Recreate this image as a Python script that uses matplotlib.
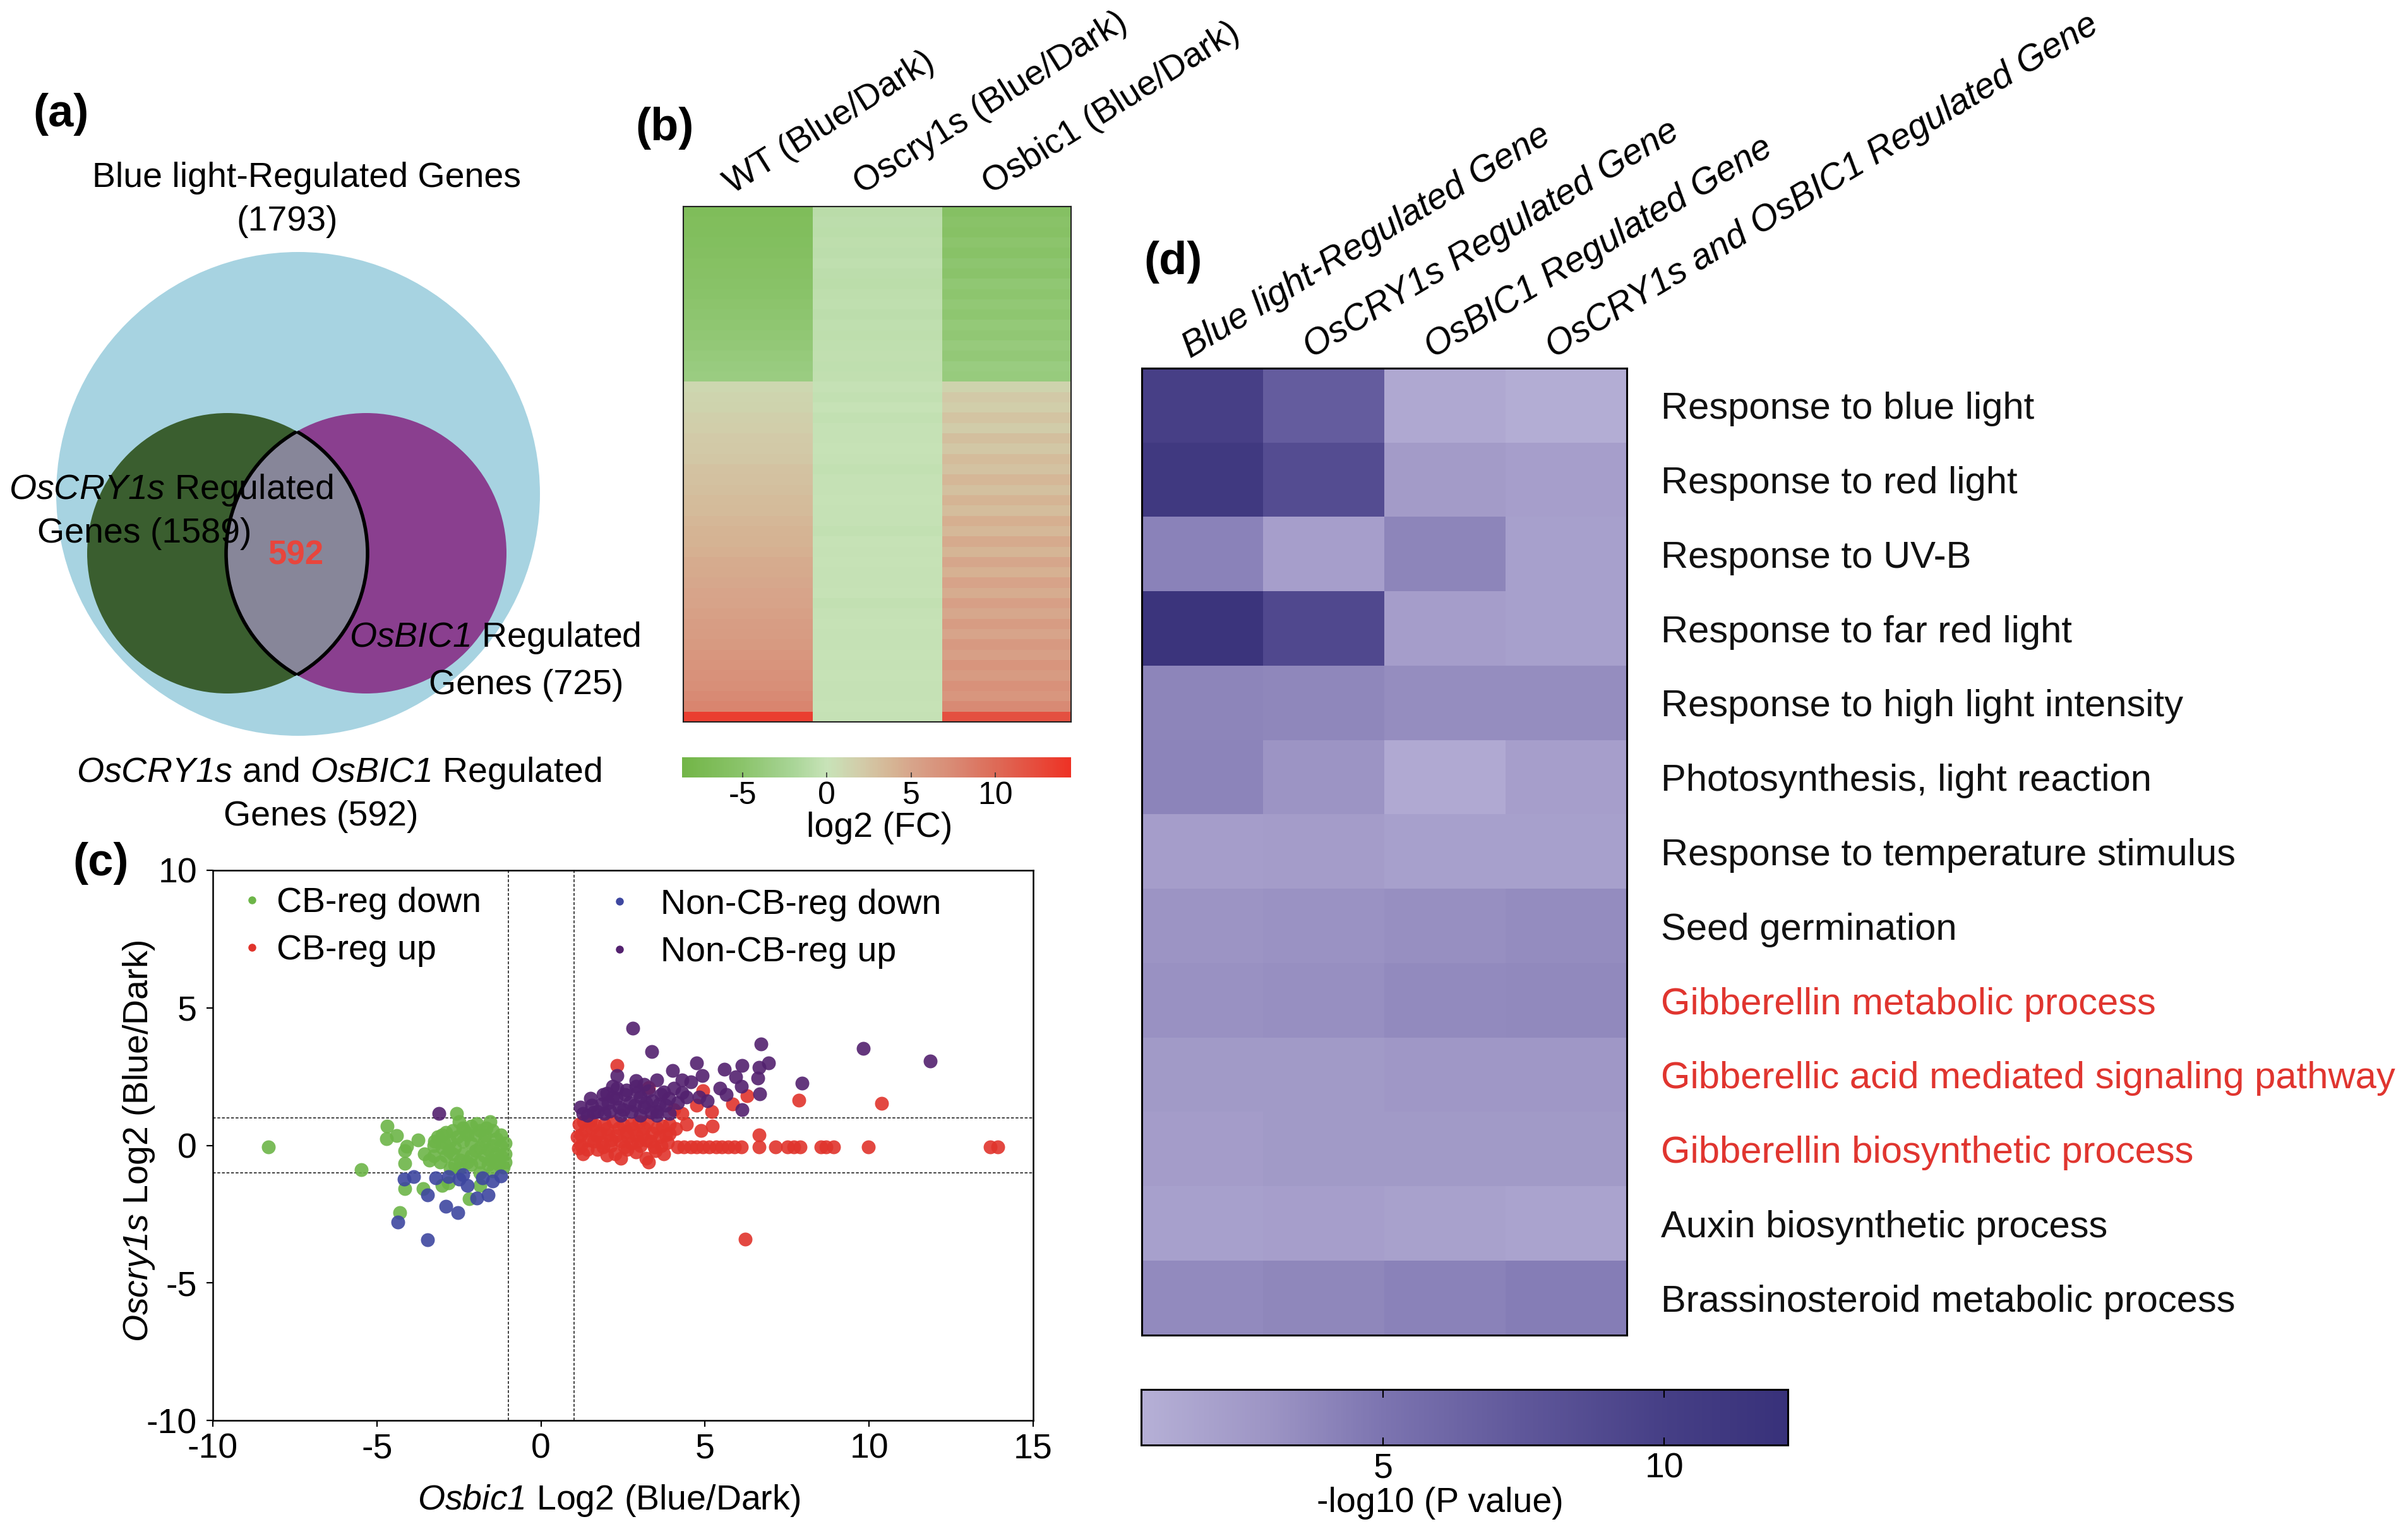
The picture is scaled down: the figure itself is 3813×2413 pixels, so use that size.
import numpy as np
import matplotlib
matplotlib.use('Agg')
import matplotlib.pyplot as plt
from matplotlib.patches import Circle
from matplotlib.colors import LinearSegmentedColormap, Normalize
from matplotlib.lines import Line2D

plt.rcParams['font.family'] = 'Liberation Sans'
# math text is only used for the italic gene names, so both math fonts are italic
# (mathtext draws digits with the 'rm' font even inside \mathit)
plt.rcParams['mathtext.fontset'] = 'custom'
plt.rcParams['mathtext.rm'] = 'Liberation Sans:italic'
plt.rcParams['mathtext.it'] = 'Liberation Sans:italic'
plt.rcParams['mathtext.bf'] = 'Liberation Sans:bold'
plt.rcParams['axes.unicode_minus'] = False

W, H = 3813, 2413

# ---------------- data ----------------
# (a) Venn counts
n_blue = 1793
n_cry = 1589
n_bic = 725
n_both = 592

# (b) log2(FC) heatmap, rows top -> bottom (17 down rows, 33 up rows)
wt_fc = [-6.6, -6.4, -6.3, -6.1, -5.9, -5.7, -5.5, -5.3, -5.1, -4.9, -4.7, -4.5, -4.3, -4.1, -3.9, -3.6, -3.4,
         1.0, 1.3, 1.4, 1.7, 1.8, 2.1, 2.2, 2.4, 2.7, 2.8, 3.0, 3.3, 3.4, 3.6, 3.9, 4.0, 4.2, 4.5, 4.6, 4.8,
         5.1, 5.2, 5.4, 5.7, 5.8, 6.0, 6.3, 6.5, 6.8, 7.0, 7.4, 7.9, 13.5]
cry_fc = [-0.9, -0.7, -0.8, -0.6, -0.7, -0.5, -0.7, -0.8, -0.6, -0.5, -0.7, -0.5, -0.6, -0.5, -0.4, -0.5, -0.4,
          -0.2, -0.3, -0.1, -0.3, -0.2, -0.2, -0.1, -0.2, -0.3, -0.2, -0.2, -0.1, -0.2, -0.2, -0.3, -0.1, -0.2,
          -0.1, -0.2, -0.2, -0.1, -0.3, -0.2, -0.1, -0.2, -0.2, -0.1, -0.2, -0.1, -0.2, -0.2, -0.1, -0.2]
bic_fc = [-5.8, -5.2, -5.5, -4.9, -5.3, -4.7, -5.0, -4.4, -4.8, -4.2, -4.6, -4.0, -4.3, -3.8, -4.1, -3.5, -3.7,
          1.4, 2.2, 1.8, 2.6, 2.0, 3.0, 2.4, 3.3, 2.7, 3.6, 2.9, 3.9, 3.2, 4.3, 3.5, 4.6, 3.8, 4.9, 4.1, 5.2,
          4.4, 5.5, 4.8, 5.8, 5.1, 6.1, 5.5, 6.4, 5.9, 6.8, 6.3, 7.4, 12.0]
b_cols = ['WT (Blue/Dark)', 'Oscry1s (Blue/Dark)', 'Osbic1 (Blue/Dark)']
b_ticks = [-5, 0, 5, 10]
b_range = (-8.6, 14.5)
b_stop_vals = [-8.6, -5, -2, 0, 2, 4, 5, 7.5, 10, 14.5]
b_stop_cols = ['#72B547', '#8BC46B', '#A9D597', '#C8E3B8', '#D2CCA9', '#D6B393', '#D7A58B',
               '#D98A74', '#DD6B58', '#EE3225']

# (c) scatter, (Osbic1 log2, Oscry1s log2)
cb_down = [(-8.31, -0.05), (-5.48, -0.88), (-4.68, 0.69), (-4.71, 0.23), (-4.39, 0.35), (-4.10, -0.03),
           (-4.14, -0.19), (-3.75, 0.19), (-4.14, -0.65), (-3.56, -0.30), (-3.24, 0.16), (-3.27, -0.38),
           (-2.89, 0.46), (-3.01, -0.07), (-3.08, -0.61), (-2.76, 0.16), (-2.69, -0.30), (-2.63, -0.69),
           (-2.57, 1.15), (-2.50, 0.85), (-2.37, 0.62), (-2.24, 0.39), (-2.12, 0.08), (-2.37, -0.30),
           (-2.12, -0.38), (-1.86, 0.54), (-1.73, 0.16), (-1.60, -0.15), (-1.86, -0.61), (-1.47, 0.54),
           (-1.35, 0.23), (-1.22, 0.00), (-1.22, -0.38), (-1.09, -0.30), (-1.54, -0.53), (-2.12, -0.69),
           (-2.50, -0.84), (-2.76, -0.84), (-3.59, -1.57), (-4.14, -1.57), (-3.01, -1.45), (-2.82, -1.37),
           (-1.86, -1.45), (-2.18, -1.95), (-4.30, -2.45), (-1.60, -0.69), (-1.28, -0.69), (-3.01, 0.39),
           (-1.99, 0.39), (-1.86, -0.07), (-1.47, 0.00), (-1.35, -0.30), (-2.37, 0.16), (-2.63, -0.07),
           (-2.89, -0.38), (-1.22, 0.39), (-1.09, 0.08), (-1.73, -0.38), (-2.24, -0.61), (-3.40, -0.53),
           (-3.27, 0.00), (-2.69, 0.54), (-2.12, 0.69), (-1.67, 0.62), (-1.09, -0.61), (-1.86, -0.99),
           (-1.47, -0.92), (-2.95, 0.10), (-2.45, -0.55), (-2.00, -0.20), (-1.70, 0.35), (-1.40, -0.55),
           (-1.15, -0.80), (-2.80, -0.20), (-2.30, 0.50), (-1.95, 0.80), (-1.55, 0.85), (-3.15, 0.30),
           (-2.55, 0.30)]
noncb_down = [(-4.17, -1.22), (-3.88, -1.14), (-3.21, -1.18), (-3.46, -1.80), (-2.89, -2.22), (-2.53, -2.45),
              (-4.36, -2.79), (-3.46, -3.44), (-2.82, -1.14), (-2.50, -1.22), (-2.24, -1.45), (-1.95, -1.91),
              (-1.60, -1.80), (-1.79, -1.18), (-1.47, -1.30), (-1.22, -1.11), (-2.37, -1.07)]
cb_up = [(2.31, 2.91), (4.94, 1.99), (3.27, 2.11), (4.75, 1.46), (5.20, 1.23), (5.84, 1.50), (4.43, 0.77),
         (4.88, 0.54), (5.23, 0.69), (3.91, 0.43), (4.04, 1.30), (4.30, 1.15),
         (1.16, 0.77), (1.22, 0.39), (1.22, 0.00), (1.28, -0.30), (1.54, 0.62), (1.60, 0.16), (1.73, -0.15),
         (1.93, 0.77), (2.05, 0.39), (2.12, 0.00), (2.37, 0.62), (2.44, 0.16), (2.44, -0.46), (2.63, -0.15),
         (2.76, 0.77), (2.89, 0.39), (3.02, 0.00), (3.21, -0.46), (3.27, -0.61), (3.14, 0.62), (3.34, 0.16),
         (3.53, 0.62), (3.66, 0.00), (3.79, 0.39), (3.91, 0.77), (1.41, -0.15), (2.25, -0.30), (2.76, 0.08),
         (1.35, 0.55), (1.80, 0.45), (2.20, 0.85), (2.60, 0.50), (3.00, 0.85), (3.40, 0.45), (3.70, 0.70),
         (1.90, -0.05), (2.90, -0.25), (3.50, -0.20), (1.50, 0.90), (4.10, 0.60),
         (1.10, 0.30), (1.45, 0.20), (1.65, 0.75), (1.85, 0.10), (2.00, 0.60), (2.30, 0.35), (2.50, 0.75),
         (2.55, -0.05), (2.80, 0.60), (2.95, 0.15), (3.10, 0.40), (3.25, 0.85), (3.45, -0.05), (3.60, 0.30),
         (3.85, 0.10), (1.30, 0.85), (1.70, 0.35), (2.15, 0.20), (2.65, 0.30), (3.20, 0.20), (1.15, -0.10),
         (2.00, -0.35), (3.75, -0.30),
         (4.17, -0.05), (4.36, -0.05), (4.56, -0.05), (4.75, -0.05), (4.94, -0.05), (5.13, -0.05),
         (5.33, -0.05), (5.52, -0.05), (5.71, -0.05), (5.90, -0.05), (6.10, -0.05), (6.64, -0.05),
         (7.15, -0.05), (7.51, -0.05), (7.70, -0.05), (7.89, -0.05), (8.53, -0.05), (8.69, -0.05),
         (8.92, -0.05), (9.98, -0.05), (13.70, -0.05), (13.92, -0.05),
         (6.64, 0.39), (7.86, 1.65), (10.39, 1.53), (6.29, 1.80), (6.22, -3.41)]
noncb_up = [(-3.11, 1.15), (2.79, 4.25), (3.37, 3.41), (2.31, 2.53), (4.01, 2.72), (4.30, 2.38), (4.75, 2.99),
            (4.91, 2.53), (5.58, 2.76), (6.13, 2.91), (5.94, 2.49), (4.56, 2.30), (3.53, 2.38), (2.89, 2.15),
            (2.31, 2.07), (1.89, 1.84), (4.81, 1.76), (5.07, 1.61), (5.45, 2.07), (5.65, 1.84), (6.10, 2.15),
            (6.13, 1.30), (4.30, 1.92), (4.04, 2.07), (1.28, 1.15), (1.54, 1.46), (1.73, 1.23), (2.05, 1.54),
            (2.18, 1.76), (2.37, 1.38), (2.57, 1.84), (2.70, 1.54), (2.76, 1.23), (3.02, 1.76), (3.14, 1.38),
            (3.27, 1.99), (3.40, 1.61), (3.53, 1.23), (3.66, 1.84), (3.79, 1.46), (3.91, 1.15), (1.93, 1.15),
            (1.41, 1.08), (2.44, 1.08), (3.02, 1.08), (2.18, 2.15), (3.14, 2.22), (3.53, 1.08), (4.17, 1.54),
            (4.43, 1.76), (6.71, 3.68), (9.82, 3.53), (11.87, 3.07), (7.96, 2.26), (6.64, 2.84), (6.93, 2.99),
            (6.61, 2.45), (6.67, 1.88), (1.20, 1.40), (1.60, 1.20), (1.85, 1.50), (2.10, 1.25), (2.30, 1.70),
            (2.50, 1.30), (2.60, 2.00), (2.85, 1.45), (2.95, 1.95), (3.20, 1.55), (3.35, 1.20), (3.60, 1.50),
            (3.75, 1.95), (3.90, 1.70), (1.50, 1.70), (2.00, 1.90), (2.90, 2.35)]
c_groups = ['CB-reg down', 'CB-reg up', 'Non-CB-reg down', 'Non-CB-reg up']
c_colors = {'CB-reg down': '#6DB548', 'CB-reg up': '#E0342C',
            'Non-CB-reg down': '#3E47A0', 'Non-CB-reg up': '#53216F'}
c_thresholds = [-1, 1]
c_xticks = [-10, -5, 0, 5, 10, 15]
c_yticks = [-10, -5, 0, 5, 10]

# (d) GO enrichment, -log10(P)
d_cols = ['Blue light-Regulated Gene', 'OsCRY1s Regulated Gene', 'OsBIC1 Regulated Gene',
          'OsCRY1s and OsBIC1 Regulated Gene']
d_rows = ['Response to blue light', 'Response to red light', 'Response to UV-B',
          'Response to far red light', 'Response to high light intensity',
          'Photosynthesis, light reaction', 'Response to temperature stimulus', 'Seed germination',
          'Gibberellin metabolic process', 'Gibberellic acid mediated signaling pathway',
          'Gibberellin biosynthetic process', 'Auxin biosynthetic process',
          'Brassinosteroid metabolic process']
d_highlight = ['Gibberellin metabolic process', 'Gibberellic acid mediated signaling pathway',
               'Gibberellin biosynthetic process']
blue_light = [9.9, 10.9, 4.1, 11.7, 3.9, 4.0, 2.2, 3.0, 3.2, 2.5, 2.3, 2.0, 3.6]
cry_reg = [7.0, 8.6, 2.1, 9.0, 3.8, 3.0, 2.3, 3.1, 3.3, 2.5, 2.5, 2.1, 3.8]
bic_reg = [1.3, 2.4, 3.9, 2.2, 3.4, 1.2, 2.0, 3.3, 3.6, 2.7, 2.5, 1.9, 4.1]
both_reg = [0.9, 2.1, 2.0, 2.0, 3.4, 2.1, 2.0, 3.5, 3.7, 2.7, 2.5, 1.7, 4.4]
d_ticks = [5, 10]
d_range = (0.7, 12.2)
d_stop_vals = [0.7, 3.0, 5.0, 7.5, 10.0, 12.2]
d_stop_cols = ['#B6B0D6', '#9C94C4', '#7C74B0', '#5F579A', '#463F86', '#38317A']


def make_cmap(name, vals, cols):
    lo, hi = vals[0], vals[-1]
    return LinearSegmentedColormap.from_list(name, [((v - lo) / (hi - lo), c) for v, c in zip(vals, cols)])


def box(l, t, r, b):
    return [l / W, 1 - b / H, (r - l) / W, (b - t) / H]


fig = plt.figure(figsize=(W / 100, H / 100), dpi=100)
fig.patch.set_facecolor('white')


def ftext(x, y, s, **kw):
    kw.setdefault('ha', 'center')
    kw.setdefault('va', 'center')
    return fig.text(x / W, 1 - y / H, s, **kw)


FS = 40

# ---------------- (a) Venn ----------------
ax_a = fig.add_axes(box(0, 120, 1060, 1340))
ax_a.set_xlim(0, 1060)
ax_a.set_ylim(1340, 120)
ax_a.axis('off')
big = Circle((472, 782), 383, color='#A7D3E1', lw=0)
green = Circle((360, 876), 222, color='#3A5E2F', lw=0)
purple = Circle((580, 876), 222, color='#8A3F8F', lw=0)
for p in (big, green, purple):
    ax_a.add_patch(p)
lens = Circle((580, 876), 222, facecolor='#878699', edgecolor='none')
ax_a.add_patch(lens)
lens.set_clip_path(green)
edge1 = Circle((580, 876), 222, facecolor='none', edgecolor='black', lw=4)
ax_a.add_patch(edge1)
edge1.set_clip_path(green)
edge2 = Circle((360, 876), 222, facecolor='none', edgecolor='black', lw=4)
ax_a.add_patch(edge2)
edge2.set_clip_path(purple)

ftext(97, 181, '(a)', fontsize=52, fontweight='bold')
ftext(485, 282, 'Blue light-Regulated Genes', fontsize=FS)
ftext(455, 351, f'({n_blue})', fontsize=FS)
ftext(271, 776, r'$OsCRY1s$ Regulated', fontsize=FS)
ftext(229, 845, f'Genes ({n_cry})', fontsize=FS)
ftext(468, 880, f'{n_both}', fontsize=38, fontweight='bold', color='#E8453C')
ftext(784, 1010, r'$OsBIC1$ Regulated', fontsize=FS)
ftext(833, 1085, f'Genes ({n_bic})', fontsize=FS)
ftext(537, 1224, r'$OsCRY1s$ and $OsBIC1$ Regulated', fontsize=FS)
ftext(508, 1293, f'Genes ({n_both})', fontsize=FS)

# ---------------- (b) heatmap ----------------
cmap_b = make_cmap('gr', b_stop_vals, b_stop_cols)
ax_b = fig.add_axes(box(1082, 327, 1696, 1143))
b_matrix = np.column_stack([wt_fc, cry_fc, bic_fc])
im_b = ax_b.imshow(b_matrix, cmap=cmap_b, norm=Normalize(*b_range), aspect='auto', interpolation='nearest')
ax_b.set_xticks([])
ax_b.set_yticks([])
for s in ax_b.spines.values():
    s.set_linewidth(1.5)
    s.set_color('#222222')
n_b = len(wt_fc)
for i, lab in enumerate(b_cols):
    ax_b.text(i - 0.12, -0.5 - 19 / (816 / n_b), lab, rotation=32, rotation_mode='anchor',
              ha='left', va='baseline', fontsize=FS, clip_on=False)
ftext(1053, 203, '(b)', fontsize=52, fontweight='bold')

cax_b = fig.add_axes(box(1080, 1199, 1696, 1231))
cb_b = fig.colorbar(im_b, cax=cax_b, orientation='horizontal', ticks=b_ticks)
cb_b.outline.set_visible(False)
cax_b.tick_params(axis='x', direction='in', length=6, width=1.2, color='#333333', labelsize=36, pad=4)
ftext(1393, 1311, 'log2 (FC)', fontsize=FS)

# ---------------- (c) scatter ----------------
ax_c = fig.add_axes(box(337, 1378, 1636, 2249))
groups = {'CB-reg down': cb_down, 'Non-CB-reg down': noncb_down,
          'CB-reg up': cb_up, 'Non-CB-reg up': noncb_up}
for name, pts in groups.items():
    xy = np.array(pts)
    ax_c.scatter(xy[:, 0], xy[:, 1], s=250, color=c_colors[name], alpha=0.9, lw=0, zorder=3)
for t in c_thresholds:
    ax_c.axvline(t, color='#333333', lw=1.3, ls=(0, (2.5, 1.5)), zorder=2)
    ax_c.axhline(t, color='#333333', lw=1.3, ls=(0, (2.5, 1.5)), zorder=2)
ax_c.set_xlim(-10, 15)
ax_c.set_ylim(-10, 10)
ax_c.set_xticks(c_xticks)
ax_c.set_yticks(c_yticks)
ax_c.tick_params(direction='out', length=7, width=1.6, labelsize=FS)
ax_c.tick_params(axis='x', pad=7)
ax_c.tick_params(axis='y', pad=11)
for s in ax_c.spines.values():
    s.set_linewidth(1.8)

handles = [Line2D([], [], ls='none', marker='o', ms=9, color=c_colors[g], mec='none') for g in c_groups]
leg1 = ax_c.legend(handles[:2], c_groups[:2], loc='upper left', bbox_to_anchor=(0.031, 0.970),
                   frameon=False, fontsize=FS, handlelength=0.8, handletextpad=0.3,
                   labelspacing=0.42, borderpad=0, borderaxespad=0)
ax_c.add_artist(leg1)
ax_c.legend(handles[2:], c_groups[2:], loc='upper left', bbox_to_anchor=(0.479, 0.967),
            frameon=False, fontsize=FS, handlelength=0.8, handletextpad=0.76,
            labelspacing=0.42, borderpad=0, borderaxespad=0)
ftext(964, 2376, r'$Osbic1$ Log2 (Blue/Dark)', fontsize=FS)
ftext(220, 1807, r'$Oscry1s$ Log2 (Blue/Dark)', fontsize=FS, rotation=90)
ftext(160, 1367, '(c)', fontsize=52, fontweight='bold')

# ---------------- (d) GO heatmap ----------------
cmap_d = make_cmap('pu', d_stop_vals, d_stop_cols)
ax_d = fig.add_axes(box(1808, 583, 2576, 2114))
d_matrix = np.column_stack([blue_light, cry_reg, bic_reg, both_reg])
im_d = ax_d.imshow(d_matrix, cmap=cmap_d, norm=Normalize(*d_range), aspect='auto', interpolation='nearest')
ax_d.set_xticks([])
ax_d.set_yticks(range(len(d_rows)))
ax_d.set_yticklabels(d_rows, fontsize=43)
ax_d.yaxis.tick_right()
ax_d.tick_params(axis='y', length=0, pad=39)
for lab in ax_d.get_yticklabels():
    lab.set_color('#E0352F' if lab.get_text() in d_highlight else '#111111')
for s in ax_d.spines.values():
    s.set_linewidth(2.2)
row_h = 1531 / len(d_rows)
for i, lab in enumerate(d_cols):
    ax_d.text(i - 0.1, -0.5 - 15 / row_h, lab, rotation=31, rotation_mode='anchor',
              ha='left', va='baseline', fontsize=41, fontstyle='italic', clip_on=False)
ftext(1858, 415, '(d)', fontsize=52, fontweight='bold')

cax_d = fig.add_axes(box(1807, 2200, 2831, 2288))
cb_d = fig.colorbar(im_d, cax=cax_d, orientation='horizontal', ticks=d_ticks)
cb_d.outline.set_linewidth(2.2)
cax_d.tick_params(axis='x', direction='in', length=9, width=1.6, top=True, labelsize=FS, pad=8)
ftext(2280, 2380, '-log10 (P value)', fontsize=FS)

fig.savefig('out.png', dpi=100, facecolor='white')
